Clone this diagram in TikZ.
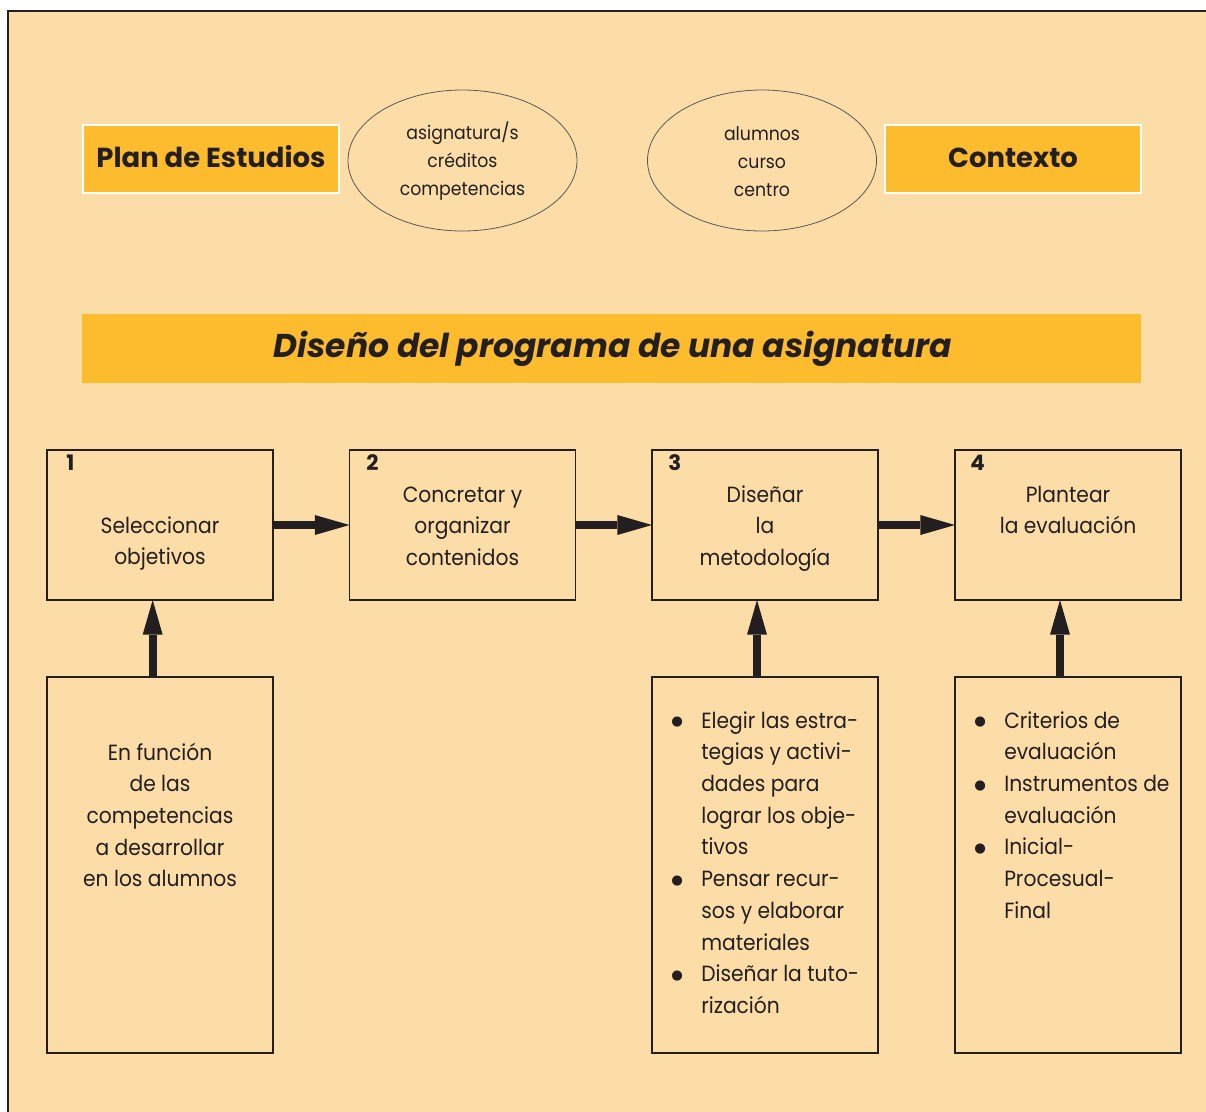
\documentclass[tikz,border=0pt]{standalone}
\usepackage{fontspec}
\setmainfont{Poppins}
\newfontfamily\condf{Poppins}[FakeStretch=0.92]
\newfontfamily\symf{DejaVu Sans}
\usetikzlibrary{arrows.meta,shapes.geometric}
\definecolor{bgc}{RGB}{253,221,167}
\definecolor{orc}{RGB}{253,187,46}
\definecolor{inkc}{RGB}{35,31,32}
\newcommand\mytabc[1]{\begin{tabular}[t]{@{}c@{}}#1\end{tabular}}
\newcommand\mytabl[1]{\begin{tabular}[t]{@{}p{22.5pt}@{}l@{}}#1\end{tabular}}
\newcommand\mybul{\raisebox{1.8pt}{\symf\fontsize{10}{10}\selectfont ●}}
\begin{document}
\begin{tikzpicture}[x=0.75pt,y=-0.75pt,
  stepbox/.style={draw=inkc, line width=1.1pt, fill=bgc, minimum width=226*0.75pt, minimum height=150*0.75pt, inner sep=0pt, outer sep=0pt},
  lowbox/.style={stepbox, minimum height=376*0.75pt},
  headbox/.style={draw=white, line width=0.8pt, fill=orc, minimum width=256*0.75pt, minimum height=68*0.75pt, inner sep=0pt},
  oval/.style={ellipse, draw=inkc!75, line width=0.6pt, minimum width=229*0.75pt, minimum height=141*0.75pt, inner sep=0pt},
  boxtext/.style={text=inkc, inner sep=0pt, anchor=base, font=\condf\fontsize{16.5}{23.8}\selectfont},
  listtext/.style={boxtext, anchor=base west},
  ovaltext/.style={text=inkc, inner sep=0pt, anchor=base, font=\condf\fontsize{14.1}{21}\selectfont},
  numtext/.style={text=inkc, inner sep=0pt, anchor=base west, font=\fontsize{16}{19}\bfseries},
  headtext/.style={text=inkc, inner sep=0pt, anchor=base, font=\fontsize{20.6}{24}\bfseries},
  bigarrow/.style={draw=inkc, line width=6pt, -{Triangle[length=26pt,width=15pt,line width=0pt 0 0]}}
]
\useasboundingbox (0,0) rectangle (1206,1111);
\clip (0,0) rectangle (1206,1111);
\fill[white] (0,0) rectangle (1206,1111);
\draw[fill=bgc, draw=inkc, line width=1.6pt] (8,11) rectangle (1230,1130);

% top row
\node[headbox] (plan) at (211,159) {};
\node[headtext] (plant) at (211,167) {Plan de Estudios};
\node[oval] (e1) at (462.5,160.5) {};
\node[ovaltext] (e1t) at (462.5,139) {\mytabc{asignatura/s\\créditos\\competencias}};
\node[oval] (e2) at (762,160.5) {};
\node[ovaltext] (e2t) at (762,140) {\mytabc{alumnos\\curso\\centro}};
\node[headbox] (ctx) at (1013,159) {};
\node[headtext] (ctxt) at (1013,167) {Contexto};

% title
\node[fill=orc, minimum width=1059*0.75pt, minimum height=69*0.75pt, inner sep=0pt] (title) at (611.5,348.5) {};
\node[text=inkc, inner sep=0pt, anchor=base, font=\fontsize{24.7}{28}\bfseries\itshape] (titlet) at (613,357) {Diseño del programa de una asignatura};

% step boxes
\node[stepbox] (b1) at (160,525) {};
\node[stepbox] (b2) at (462.5,525) {};
\node[stepbox] (b3) at (765,525) {};
\node[stepbox] (b4) at (1068,525) {};
\node[numtext] (n1) at (66,470) {1};
\node[numtext] (n2) at (366,470) {2};
\node[numtext] (n3) at (668,470) {3};
\node[numtext] (n4) at (970,470) {4};
\node[boxtext] (t1) at (160,533) {\mytabc{Seleccionar\\objetivos}};
\node[boxtext] (t2) at (462.5,502) {\mytabc{Concretar y\\organizar\\contenidos}};
\node[boxtext] (t3) at (765,502) {\mytabc{Diseñar\\la\\metodología}};
\node[boxtext] (t4) at (1068,502) {\mytabc{Plantear\\la evaluación}};

% lower boxes
\node[lowbox] (b1b) at (160,865) {};
\node[lowbox] (b3b) at (765,865) {};
\node[lowbox] (b4b) at (1068,865) {};
\node[boxtext] (t1b) at (160,760) {\mytabc{En función\\de las\\competencias\\a desarrollar\\en los alumnos}};
\node[listtext] (t3b) at (671,728) {\mytabl{\mybul & Elegir las estra-\\
 & tegias y activi-\\
 & dades para\\
 & lograr los obje-\\
 & tivos\\
\mybul & Pensar recur-\\
 & sos y elaborar\\
 & materiales\\
\mybul & Diseñar la tuto-\\
 & rización}};
\node[listtext] (t4b) at (974,728) {\mytabl{\mybul & Criterios de\\
 & evaluación\\
\mybul & Instrumentos de\\
 & evaluación\\
\mybul & Inicial-\\
 & Procesual-\\
 & Final}};

% arrows
\draw[bigarrow] (b1.east) -- (b2.west);
\draw[bigarrow] (b2.east) -- (b3.west);
\draw[bigarrow] (b3.east) -- (b4.west);
\draw[bigarrow] ([xshift=-5.5pt]b1b.north) -- ([xshift=-5.5pt]b1.south);
\draw[bigarrow] ([xshift=-6pt]b3b.north) -- ([xshift=-6pt]b3.south);
\draw[bigarrow] ([xshift=-6pt]b4b.north) -- ([xshift=-6pt]b4.south);
\end{tikzpicture}
\end{document}
